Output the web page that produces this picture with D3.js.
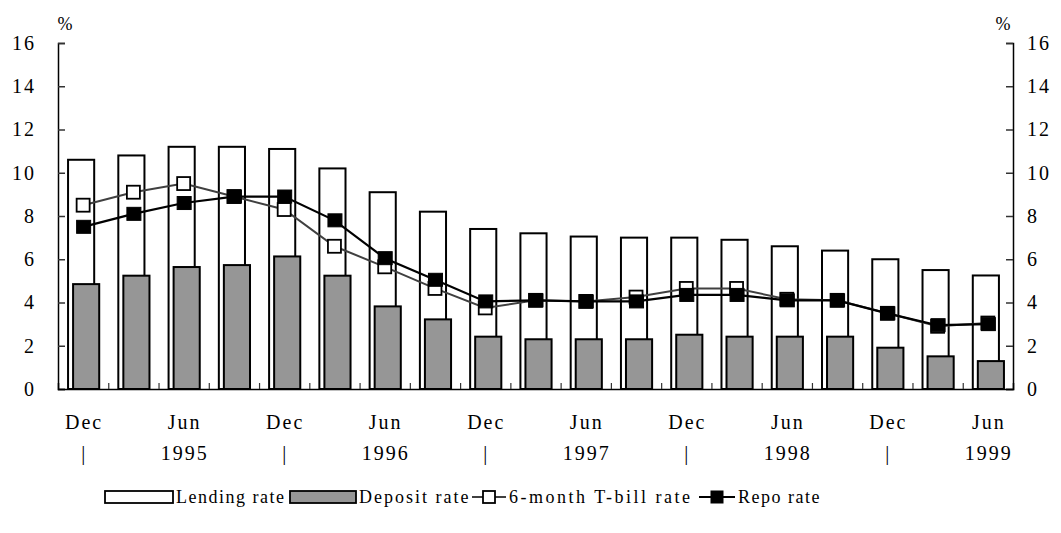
<!DOCTYPE html>
<html>
<head>
<meta charset="utf-8">
<script src="https://cdn.jsdelivr.net/npm/d3@7/dist/d3.min.js"></script>
<style>
  html, body { margin: 0; padding: 0; background: #fff; }
  text { font-family: "Liberation Serif", "Times New Roman", serif; fill: #000; }
</style>
</head>
<body>
<svg id="chart" width="1061" height="533"></svg>
<script>
const categories = ["Dec 94","Mar 95","Jun 95","Sep 95","Dec 95","Mar 96","Jun 96","Sep 96","Dec 96","Mar 97","Jun 97","Sep 97","Dec 97","Mar 98","Jun 98","Sep 98","Dec 98","Mar 99","Jun 99"];
const monthLabels = ["Dec","","Jun","","Dec","","Jun","","Dec","","Jun","","Dec","","Jun","","Dec","","Jun"];
const yearLabels  = ["|","","1995","","|","","1996","","|","","1997","","|","","1998","","|","","1999"];
const lendingRate = [10.6,10.8,11.2,11.2,11.1,10.2,9.1,8.2,7.4,7.2,7.05,7.0,7.0,6.9,6.6,6.4,6.0,5.5,5.25];
const depositRate = [4.85,5.24,5.64,5.73,6.13,5.24,3.82,3.22,2.42,2.3,2.3,2.3,2.51,2.42,2.42,2.42,1.91,1.51,1.29];
const tbillRate   = [8.5,9.1,9.5,8.9,8.3,6.6,5.65,4.65,3.75,4.1,4.05,4.25,4.65,4.65,4.15,4.1,3.5,2.9,3.05];
const repoRate    = [7.5,8.1,8.6,8.9,8.9,7.8,6.05,5.05,4.05,4.1,4.05,4.05,4.35,4.35,4.1,4.1,3.5,2.95,3.0];
const yTicks = [0,2,4,6,8,10,12,14,16];
const legendLabels = ["Lending rate","Deposit rate","6-month T-bill rate","Repo rate"];

const svg = d3.select("#chart");
const L = 58, R = 1013, T = 43, B = 389;

const x = d3.scaleBand().domain(categories).range([L, R]).padding(0);
const xi = d3.scaleLinear().domain([0, categories.length]).range([L, R]);
const y = d3.scaleLinear().domain([0, 16]).range([B, T]);
const bw = x.bandwidth();
const FS = "20px", LS = "2px";

// Lending bars (white)
svg.append("g").selectAll("rect").data(lendingRate).join("rect")
  .attr("x", (d,i) => x(categories[i]) + bw*0.2)
  .attr("width", bw*0.52)
  .attr("y", d => y(d))
  .attr("height", d => y(0) - y(d))
  .attr("fill", "#fff").attr("stroke", "#000").attr("stroke-width", 2);

// Deposit bars (gray)
svg.append("g").selectAll("rect").data(depositRate).join("rect")
  .attr("x", (d,i) => x(categories[i]) + bw*0.3)
  .attr("width", bw*0.52)
  .attr("y", d => y(d))
  .attr("height", d => y(0) - y(d))
  .attr("fill", "#969696").attr("stroke", "#000").attr("stroke-width", 2);

const cx = i => x(categories[i]) + bw/2;
const line = d3.line().x((d,i) => cx(i)).y(d => y(d));
const MS = 13;

// T-bill
svg.append("path").datum(tbillRate).attr("d", line)
  .attr("fill", "none").attr("stroke", "#404040").attr("stroke-width", 2);
svg.append("g").selectAll("rect").data(tbillRate).join("rect")
  .attr("x", (d,i) => cx(i) - MS/2).attr("y", d => y(d) - MS/2)
  .attr("width", MS).attr("height", MS)
  .attr("fill", "#fff").attr("stroke", "#000").attr("stroke-width", 1.8);

// Repo
svg.append("path").datum(repoRate).attr("d", line)
  .attr("fill", "none").attr("stroke", "#000").attr("stroke-width", 2.2);
svg.append("g").selectAll("rect").data(repoRate).join("rect")
  .attr("x", (d,i) => cx(i) - MS/2).attr("y", d => y(d) - MS/2)
  .attr("width", MS+1).attr("height", MS)
  .attr("fill", "#000").attr("stroke", "#000").attr("stroke-width", 1);

// Axes
const gl = svg.append("g").attr("transform", `translate(${L},0)`)
  .call(d3.axisLeft(y).tickValues(yTicks).tickSize(-7).tickPadding(22).tickFormat(d3.format("d")));
const gr = svg.append("g").attr("transform", `translate(${R},0)`)
  .call(d3.axisRight(y).tickValues(yTicks).tickSize(-7).tickPadding(15).tickFormat(d3.format("d")));
[gl, gr].forEach(g => {
  g.select(".domain").attr("stroke", "#000").attr("stroke-width", 1.5);
  g.selectAll(".tick line").attr("stroke", "#333").attr("stroke-width", 1.5);
  g.selectAll("text").style("font-size", FS).style("letter-spacing", LS)
    .style("font-family", '"Liberation Serif", serif').style("font-weight", "normal");
});
gl.selectAll("text").attr("x", -22);
gr.selectAll("text").attr("x", 14);

const gb = svg.append("g").attr("transform", `translate(0,${B})`)
  .call(d3.axisBottom(xi).tickValues(d3.range(1, categories.length)).tickSize(-6).tickFormat(""));
gb.select(".domain").attr("stroke", "#000").attr("stroke-width", 1.5);
gb.selectAll(".tick line").attr("stroke", "#333").attr("stroke-width", 1.2);

// Category labels: two rows
const row1 = svg.append("g").attr("transform", `translate(0,${B})`)
  .call(d3.axisBottom(x).tickSize(0).tickPadding(26).tickFormat((d,i) => monthLabels[i]));
const row2 = svg.append("g").attr("transform", `translate(0,${B+31})`)
  .call(d3.axisBottom(x).tickSize(0).tickPadding(26).tickFormat((d,i) => yearLabels[i]));
[row1, row2].forEach(g => {
  g.select(".domain").remove();
  g.selectAll("text").style("font-size", FS).style("letter-spacing", LS)
    .style("font-family", '"Liberation Serif", serif').attr("dx", 1);
});

// % labels
svg.append("text").attr("x", 65).attr("y", 30).attr("text-anchor", "middle")
  .style("font-size", "18px").text("%");
svg.append("text").attr("x", 1003).attr("y", 30).attr("text-anchor", "middle")
  .style("font-size", "18px").text("%");

// Legend
const ly = 497;
const lg = svg.append("g");
const LFS = "18px";
lg.append("rect").attr("x", 105).attr("y", ly-6).attr("width", 68).attr("height", 12)
  .attr("fill", "#fff").attr("stroke", "#000").attr("stroke-width", 1.8);
lg.append("text").attr("x", 176).attr("y", ly+6).style("font-size", LFS).style("letter-spacing", "1.5px").text(legendLabels[0]);
lg.append("rect").attr("x", 290).attr("y", ly-6).attr("width", 66).attr("height", 12)
  .attr("fill", "#969696").attr("stroke", "#000").attr("stroke-width", 1.8);
lg.append("text").attr("x", 359).attr("y", ly+6).style("font-size", LFS).style("letter-spacing", "2px").text(legendLabels[1]);
lg.append("line").attr("x1", 472).attr("x2", 506).attr("y1", ly).attr("y2", ly)
  .attr("stroke", "#404040").attr("stroke-width", 2);
lg.append("rect").attr("x", 483).attr("y", ly-6).attr("width", 12).attr("height", 12)
  .attr("fill", "#fff").attr("stroke", "#000").attr("stroke-width", 1.8);
lg.append("text").attr("x", 509).attr("y", ly+6).style("font-size", LFS).style("letter-spacing", "2.5px").text(legendLabels[2]);
lg.append("line").attr("x1", 699).attr("x2", 735).attr("y1", ly).attr("y2", ly)
  .attr("stroke", "#000").attr("stroke-width", 2.2);
lg.append("rect").attr("x", 711).attr("y", ly-6).attr("width", 12).attr("height", 12)
  .attr("fill", "#000").attr("stroke", "#000").attr("stroke-width", 1);
lg.append("text").attr("x", 738).attr("y", ly+6).style("font-size", LFS).style("letter-spacing", "1.5px").text(legendLabels[3]);
</script>
</body>
</html>
